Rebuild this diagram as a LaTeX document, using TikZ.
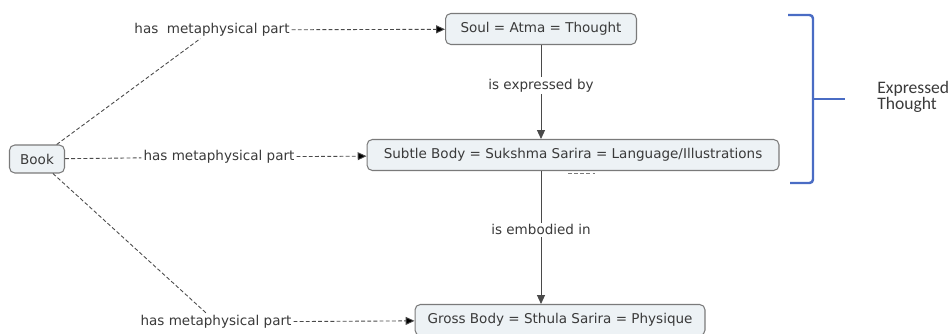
\documentclass[tikz,border=0pt]{standalone}
\usepackage{fontspec}
\setmainfont{DejaVu Sans}
\newfontfamily\carlitofont{Carlito}
\usepackage{tikz}
\usetikzlibrary{arrows.meta}
\definecolor{txtgray}{HTML}{3A3A3A}
\definecolor{boxgray}{HTML}{7A7A7A}
\definecolor{boxfill}{HTML}{EDF2F5}
\definecolor{linegray}{HTML}{4A4A4A}
\definecolor{braceblue}{HTML}{4A6CC4}

\begin{document}
\begin{tikzpicture}[x=0.02cm,y=-0.02cm,>={Triangle[length=5pt,width=4.5pt]},
                    font=\fontsize{7.7pt}{9pt}\selectfont,text=txtgray]
\tikzstyle{concept}=[draw=boxgray,fill=boxfill,rounded corners=3pt,minimum height=0.62cm,inner sep=2pt,line width=0.6pt]
\tikzstyle{linkword}=[inner sep=1pt,fill=white]
\tikzstyle{dashlink}=[draw=linegray,line width=0.5pt,dash pattern=on 2.2pt off 1.3pt]
\tikzstyle{solidlink}=[draw=linegray,line width=0.5pt]

\useasboundingbox (0,0) rectangle (952,334);

        \node[concept, minimum width=1.1cm, minimum height=0.56cm]   (book)   at (37,159)  {Book};
        \node[concept, minimum width=3.82cm]                         (soul)   at (541,29)  {Soul = Atma = Thought};
        \node[concept, minimum width=8.24cm]                         (subtle) at (573,155) {Subtle Body = Sukshma Sarira = Language/Illustrations};
        \node[concept, minimum width=5.8cm]                          (gross)  at (560,320) {Gross Body = Sthula Sarira = Physique};

        \node[linkword]   (part1) at (212,30)  {has\ \ metaphysical part};
        \node[linkword]   (part2) at (219,157) {has metaphysical part};
        \node[linkword]   (part3) at (216,322) {has metaphysical part};

        \path[dashlink]
        (book)    edge             (part1)
        (book)    edge             (part2)
        (book)    edge             (part3)
        (part1)   edge[->]         (soul)
        (part2)   edge[->]         (subtle)
        (part3)   edge[->]         (gross)
        ; %end path

        \draw[solidlink,->] (soul.south) -- node[linkword,pos=0.43] (expr) {is expressed by} (soul.south |- subtle.north);
        \draw[solidlink,->] (subtle.south -| soul.south) -- node[linkword,pos=0.44] (emb) {is embodied in} (gross.north -| soul.south);
        \draw[dashlink,draw=boxgray] (subtle.south) ++(-5,2) -- ++(27,0);

        % bracket on the right
        \draw[braceblue,line width=1.4pt,rounded corners=2pt] (788,15) -- (813,15) -- (813,183) -- (790,183);
        \draw[braceblue,line width=1.4pt] (813,99) -- (845,99);
        \node[anchor=west,align=left,inner sep=0pt,font=\carlitofont\fontsize{10pt}{8.2pt}\selectfont] (expthought) at (877,97) {Expressed\\Thought};

\end{tikzpicture}
\end{document}
